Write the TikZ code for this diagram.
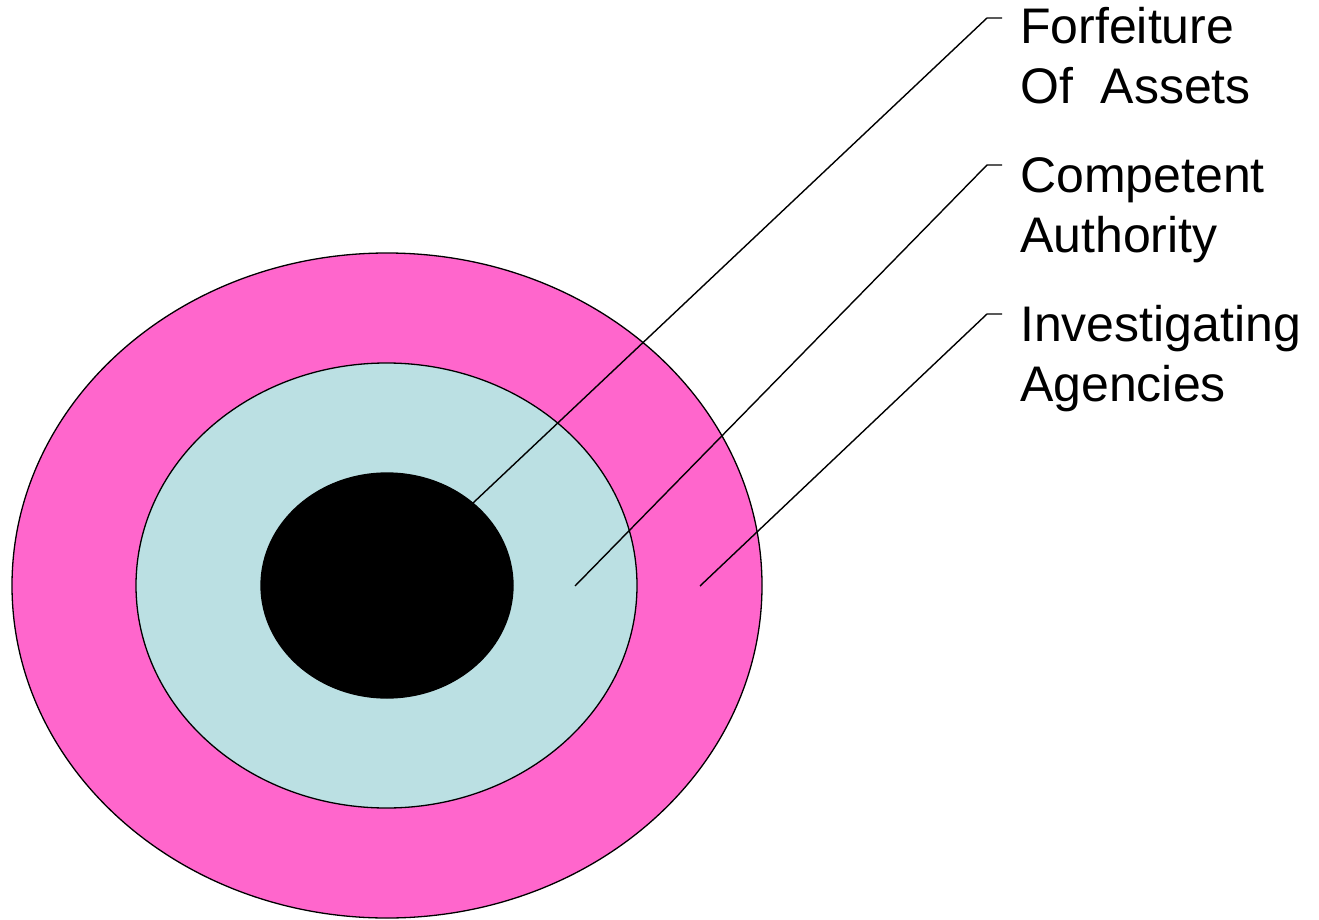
\documentclass[tikz,border=0pt]{standalone}
\usepackage{fontspec}
\setmainfont{Liberation Sans}
\definecolor{pinkring}{RGB}{255,102,204}
\definecolor{bluering}{RGB}{187,224,227}
\begin{document}
\begin{tikzpicture}[x=1pt,y=-1pt,
  ring/.style={draw=black,line width=1.3pt},
  leader/.style={draw=black,line width=1.4pt},
  lbl/.style={anchor=base west,inner sep=0pt,align=left,font=\fontsize{50}{60}\selectfont}]
\useasboundingbox (0,0) rectangle (1319,920);
% rings
\draw[ring,fill=pinkring] (387,585.5) ellipse [x radius=375,y radius=332.5];
\draw[ring,fill=bluering] (386.5,585.5) ellipse [x radius=250.5,y radius=222.5];
\draw[ring,fill=black] (387,585.5) ellipse [x radius=126,y radius=112.5];
% leader points
\coordinate (s1) at (473,503);
\coordinate (s2) at (575,586);
\coordinate (s3) at (700,586);
\coordinate (b1) at (987,18);
\coordinate (b2) at (987,165);
\coordinate (b3) at (987,314);
\coordinate (t1) at (1002,18);
\coordinate (t2) at (1002,165);
\coordinate (t3) at (1002,314);
\draw[leader] (s1) -- (b1) -- (t1);
\draw[leader] (s2) -- (b2) -- (t2);
\draw[leader] (s3) -- (b3) -- (t3);
% labels (anchor = baseline of last line)
\node[lbl] (l1) at (1020,104) {Forfeiture\\Of\ \ Assets};
\node[lbl] (l2) at (1020,252) {Competent\\Authority};
\node[lbl] (l3) at (1020,401) {Investigating\\Agencies};
\end{tikzpicture}
\end{document}
